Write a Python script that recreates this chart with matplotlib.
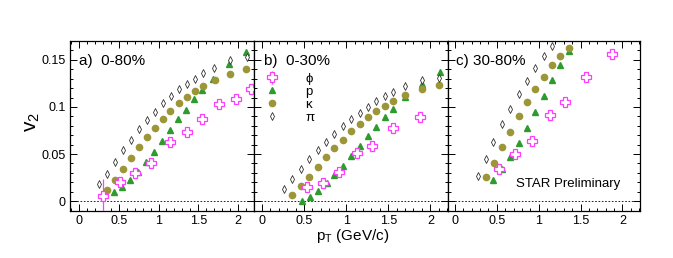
import matplotlib
matplotlib.use("Agg")
import matplotlib.pyplot as plt
from matplotlib.ticker import MultipleLocator, FuncFormatter

plt.rcParams["font.family"] = ["Liberation Sans", "DejaVu Sans"]

# ---- data: v2 vs pT, three centralities ----
# a) 0-80%
a_pi_pt = [0.25, 0.35, 0.45, 0.55, 0.65, 0.75, 0.85, 0.95, 1.05, 1.16, 1.26, 1.36, 1.46, 1.56, 1.70, 1.90, 2.11]
a_pi_v2 = [0.018, 0.0286, 0.0416, 0.054, 0.0654, 0.0766, 0.0863, 0.095, 0.1039, 0.1115, 0.1185, 0.1248, 0.130, 0.136, 0.1416, 0.150, 0.1535]
a_k_pt = [0.35, 0.45, 0.55, 0.65, 0.75, 0.85, 0.95, 1.05, 1.15, 1.26, 1.36, 1.46, 1.56, 1.71, 1.90, 2.10]
a_k_v2 = [0.0119, 0.0227, 0.0339, 0.0454, 0.0573, 0.0678, 0.0776, 0.0874, 0.0961, 0.1042, 0.1105, 0.1171, 0.122, 0.1283, 0.1349, 0.140]
a_p_pt = [0.445, 0.54, 0.64, 0.74, 0.84, 0.94, 1.04, 1.145, 1.245, 1.346, 1.447, 1.547, 1.69, 1.89, 2.095]
a_p_v2 = [0.0094, 0.0147, 0.0227, 0.031, 0.0416, 0.0524, 0.0643, 0.0758, 0.0871, 0.0968, 0.108, 0.1178, 0.1293, 0.1451, 0.1584]
a_phi_pt = [0.30, 0.51, 0.70, 0.91, 1.15, 1.36, 1.55, 1.76, 1.97, 2.16]
a_phi_v2 = [0.0059, 0.0206, 0.0297, 0.0409, 0.0625, 0.073, 0.0877, 0.1031, 0.108, 0.1189]
a_phi_err = [0.018, 0.002, 0.002, 0.002, 0.002, 0.002, 0.002, 0.002, 0.002, 0.002]

# b) 0-30%
b_pi_pt = [0.26, 0.36, 0.46, 0.56, 0.66, 0.76, 0.86, 0.96, 1.06, 1.16, 1.26, 1.36, 1.46, 1.56, 1.70, 1.905, 2.10]
b_pi_v2 = [0.0129, 0.0234, 0.0339, 0.0444, 0.0541, 0.0629, 0.0716, 0.0797, 0.0874, 0.094, 0.1003, 0.1066, 0.1115, 0.116, 0.122, 0.1283, 0.131]
b_k_pt = [0.36, 0.46, 0.56, 0.66, 0.76, 0.86, 0.96, 1.06, 1.16, 1.26, 1.36, 1.46, 1.56, 1.70, 1.905, 2.10]
b_k_v2 = [0.0066, 0.0157, 0.0258, 0.0367, 0.0465, 0.0563, 0.0654, 0.0748, 0.0821, 0.0892, 0.0958, 0.101, 0.106, 0.1126, 0.1185, 0.123]
b_p_pt = [0.47, 0.57, 0.66, 0.77, 0.86, 0.96, 1.06, 1.16, 1.26, 1.36, 1.46, 1.56, 1.70, 1.905, 2.11]
b_p_v2 = [0.0006, 0.0042, 0.0105, 0.0192, 0.0276, 0.037, 0.0475, 0.059, 0.0695, 0.0787, 0.0892, 0.0982, 0.1108, 0.1248, 0.1374]
b_phi_pt = [0.54, 0.72, 0.91, 1.13, 1.31, 1.56, 1.88]
b_phi_v2 = [0.015, 0.0192, 0.0311, 0.0514, 0.059, 0.078, 0.0898]
b_phi_err = [0.005, 0.002, 0.002, 0.002, 0.002, 0.002, 0.002]

# c) 30-80%
c_pi_pt = [0.27, 0.37, 0.46, 0.56, 0.66, 0.76, 0.86, 0.96, 1.06, 1.16]
c_pi_v2 = [0.0269, 0.0444, 0.0629, 0.0814, 0.0979, 0.1139, 0.128, 0.1412, 0.1538, 0.1647]
c_k_pt = [0.37, 0.47, 0.565, 0.66, 0.76, 0.86, 0.96, 1.06, 1.16, 1.26, 1.36]
c_k_v2 = [0.0258, 0.0409, 0.057, 0.0737, 0.0902, 0.1052, 0.1192, 0.1318, 0.1448, 0.1538, 0.1622]
c_p_pt = [0.46, 0.56, 0.66, 0.76, 0.86, 0.96, 1.06, 1.16, 1.26, 1.36]
c_p_v2 = [0.0227, 0.0339, 0.0472, 0.0619, 0.0776, 0.0944, 0.1115, 0.1283, 0.1444, 0.1598]
c_phi_pt = [0.53, 0.72, 0.92, 1.13, 1.31, 1.56, 1.88]
c_phi_v2 = [0.0339, 0.050, 0.0636, 0.0916, 0.1052, 0.1318, 0.1563]
c_phi_err = [0.004, 0.002, 0.002, 0.002, 0.002, 0.002, 0.002]

panel_labels = ["a)  0-80%", "b)  0-30%", "c) 30-80%"]
species_labels = ["\u03d5", "p", "\u03ba", "\u03c0"]

PHI_C = "#ff3cff"
P_C = "#2e9b2e"
K_C = "#9c9638"
PI_C = "#333333"

W, H = 673, 258
fig = plt.figure(figsize=(W / 100, H / 100), dpi=100)

boxes = [(70, 254, -0.113, 2.20), (254, 448, -0.095, 2.21), (448, 640, -0.083, 2.21)]
top, bot = 41, 210.7
panels = [
    (a_pi_pt, a_pi_v2, a_k_pt, a_k_v2, a_p_pt, a_p_v2, a_phi_pt, a_phi_v2, a_phi_err),
    (b_pi_pt, b_pi_v2, b_k_pt, b_k_v2, b_p_pt, b_p_v2, b_phi_pt, b_phi_v2, b_phi_err),
    (c_pi_pt, c_pi_v2, c_k_pt, c_k_v2, c_p_pt, c_p_v2, c_phi_pt, c_phi_v2, c_phi_err),
]

fmt = FuncFormatter(lambda v, _: "%g" % round(v, 3))
for i, ((x0, x1, xl, xr), d) in enumerate(zip(boxes, panels)):
    ax = fig.add_axes([x0 / W, 1 - bot / H, (x1 - x0) / W, (bot - top) / H])
    pi_pt, pi_v2, k_pt, k_v2, p_pt, p_v2, phi_pt, phi_v2, phi_err = d
    ax.axhline(0, color="black", lw=0.6, ls=(0, (2, 2)), zorder=1)
    h_phi = ax.errorbar(phi_pt, phi_v2, yerr=phi_err, fmt="P", ms=7.5, mfc="white",
                        mec=PHI_C, mew=0.9, ecolor=PHI_C, elinewidth=0.9, capsize=0,
                        zorder=3)
    h_p, = ax.plot(p_pt, p_v2, "^", ms=4.5, color=P_C, ls="none", zorder=3)
    h_k, = ax.plot(k_pt, k_v2, "o", ms=4.5, color=K_C, ls="none", zorder=3)
    h_pi, = ax.plot(pi_pt, pi_v2, "d", ms=4.2, mfc="white", mec=PI_C, mew=0.6,
                    ls="none", zorder=3)
    ax.set_xlim(xl, xr)
    ax.set_ylim(-0.0102, 0.170)
    ax.xaxis.set_major_locator(MultipleLocator(0.5))
    ax.xaxis.set_minor_locator(MultipleLocator(0.1))
    ax.yaxis.set_major_locator(MultipleLocator(0.05))
    ax.yaxis.set_minor_locator(MultipleLocator(0.01))
    ax.xaxis.set_major_formatter(fmt)
    ax.yaxis.set_major_formatter(fmt)
    ax.tick_params(which="both", direction="in", top=True, right=True,
                   labelsize=9, width=0.7, pad=3)
    ax.tick_params(which="major", length=5)
    ax.tick_params(which="minor", length=2.5)
    if i > 0:
        ax.tick_params(labelleft=False)
    for s in ax.spines.values():
        s.set_linewidth(0.9)
    ax.text(0.05 if i < 2 else 0.04, 0.88, panel_labels[i], transform=ax.transAxes,
            fontsize=11, va="center", ha="left")
    if i == 1:
        ax.legend([h_phi, h_p, h_k, h_pi], species_labels, loc="upper left",
                  bbox_to_anchor=(0.02, 0.86), frameon=False, fontsize=9.5,
                  handletextpad=2.0, labelspacing=0.05, borderaxespad=0.2,
                  handlelength=1.0)
    if i == 2:
        ax.text(0.896, 0.157, "STAR Preliminary", transform=ax.transAxes,
                fontsize=9.5, ha="right", va="center")

fig.text(353 / W, 1 - 236 / H, "p$_\\mathregular{T}$ (GeV/c)", fontsize=11,
         ha="center", va="center")
fig.text(32 / W, 1 - 122 / H, "v$_\\mathregular{2}$", fontsize=15,
         ha="center", va="center", rotation=90)

fig.savefig("out.png", dpi=100)
